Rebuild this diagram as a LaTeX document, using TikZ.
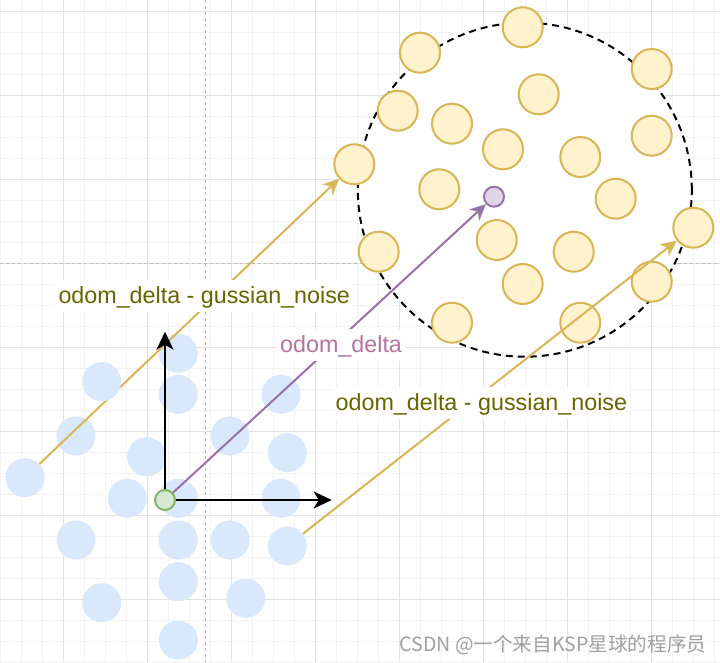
\documentclass[tikz,border=0pt]{standalone}
\usepackage{fontspec}
\setmainfont{Liberation Sans}
\newfontfamily\cjkfont{Noto Sans CJK SC}
\usetikzlibrary{arrows.meta}
\definecolor{yfill}{HTML}{FFF2CC}
\definecolor{ystroke}{HTML}{D6B656}
\definecolor{bfill}{HTML}{DAE8FC}
\definecolor{gfill}{HTML}{D5E8D4}
\definecolor{gstroke}{HTML}{82B366}
\definecolor{pfill}{HTML}{E1D5E7}
\definecolor{pstroke}{HTML}{9673A6}
\definecolor{olivetext}{HTML}{666600}
\definecolor{ptext}{HTML}{B5739D}
\definecolor{gminorc}{HTML}{F3F3F3}
\definecolor{gmajorc}{HTML}{E2E2E2}
\definecolor{guidec}{HTML}{BBBBBB}
\definecolor{wmc}{HTML}{A0A0A0}
\tikzset{
  gminor/.style={draw=gminorc, line width=1pt},
  gmajor/.style={draw=gmajorc, line width=1pt},
  guide/.style={draw=guidec, line width=1pt, dash pattern=on 3pt off 3pt},
  bcirc/.style={circle, fill=bfill, minimum size=39pt, inner sep=0pt},
  ycirc/.style={circle, draw=ystroke, fill=yfill, line width=2pt, minimum size=40pt, inner sep=0pt},
  dashcirc/.style={circle, draw=black, fill=white, line width=2pt, dash pattern=on 7pt off 5pt, minimum size=334pt, inner sep=0pt},
  gcirc/.style={circle, draw=gstroke, fill=gfill, line width=2pt, minimum size=20pt, inner sep=0pt},
  pcirc/.style={circle, draw=pstroke, fill=pfill, line width=2pt, minimum size=20pt, inner sep=0pt},
  blackarrow/.style={draw=black, line width=2.2pt, -{Stealth[length=18pt, width=17pt, inset=5pt]}},
  yarrow/.style={draw=ystroke, line width=2pt, -{Stealth[length=16pt, width=15pt, inset=5pt]}},
  parrow/.style={draw=pstroke, line width=2pt, -{Stealth[length=16pt, width=15pt, inset=5pt]}},
  lbl/.style={fill=white, inner sep=3pt, anchor=base west, text height=20.5pt, text depth=5.7pt, font=\fontsize{23.3}{27}\selectfont},
}
\begin{document}
\begin{tikzpicture}[x=1pt, y=-1pt]
\useasboundingbox (0,0) rectangle (720,662);
\fill[white] (0,0) rectangle (720,662);
% grid
\foreach \k in {0,...,34} {\draw[gminor] ({0.3+21*\k},0) -- ({0.3+21*\k},662);}
\foreach \k in {0,...,31} {\draw[gminor] (0,{11.7+21*\k}) -- (720,{11.7+21*\k});}
\foreach \k in {0,...,7} {\draw[gmajor] ({63.3+84*\k},0) -- ({63.3+84*\k},662);}
\foreach \k in {0,...,7} {\draw[gmajor] (0,{11.7+84*\k}) -- (720,{11.7+84*\k});}
% guides
\draw[guide] (205.3,0) -- (205.3,662);
\draw[guide] (0,263.7) -- (720,263.7);
% dashed region
\node[dashcirc] (dc) at (524.8,189.7) {};
% blue circles
\node[bcirc] (b1) at (178.3,353.3) {};
\node[bcirc] (b3) at (178.3,394.3) {};
\node[bcirc] (b4) at (281,394.3) {};
\node[bcirc] (b5) at (76,436) {};
\node[bcirc] (b6) at (230,436) {};
\node[bcirc] (b7) at (287.3,452.7) {};
\node[bcirc] (b8) at (146.7,456.7) {};
\node[bcirc] (b9) at (25,477.7) {};
\node[bcirc] (b10) at (127.3,498.3) {};
\node[bcirc] (b11) at (178.3,498.3) {};
\node[bcirc] (b12) at (281,498.3) {};
\node[bcirc] (b13) at (76,540) {};
\node[bcirc] (b14) at (178.3,540) {};
\node[bcirc] (b15) at (230,540) {};
\node[bcirc] (b16) at (287.3,546) {};
\node[bcirc] (b17) at (178.3,581.7) {};
\node[bcirc] (b18) at (101.7,602.7) {};
\node[bcirc] (b19) at (245.7,598.3) {};
\node[bcirc] (b20) at (178.3,640) {};
% yellow circles
\node[ycirc] (y1) at (522.7,27.3) {};
\node[ycirc] (y2) at (420,52.7) {};
\node[ycirc] (y3) at (651.7,69) {};
\node[ycirc] (y4) at (538.7,94.3) {};
\node[ycirc] (y5) at (397.7,110.7) {};
\node[ycirc] (y6) at (452,123.7) {};
\node[ycirc] (y7) at (651.7,135.7) {};
\node[ycirc] (y8) at (503,149.3) {};
\node[ycirc] (y9) at (580.3,157) {};
\node[ycirc] (y10) at (354.3,164.3) {};
\node[ycirc] (y11) at (439.3,189.3) {};
\node[ycirc] (y12) at (615.7,198.7) {};
\node[ycirc] (y13) at (693.3,227.7) {};
\node[ycirc] (y14) at (496.7,240) {};
\node[ycirc] (y15) at (573.7,251.7) {};
\node[ycirc] (y16) at (378.7,251.7) {};
\node[ycirc] (y17) at (522.7,284) {};
\node[ycirc] (y18) at (651.7,281.7) {};
\node[ycirc] (y19) at (452,322.7) {};
\node[ycirc] (y20) at (580.3,322.7) {};
% purple target
\node[pcirc] (pc) at (494,196.7) {};
% connectors
\coordinate (gc) at (165,500);
\coordinate (ty) at (165,331.7);
\coordinate (tx) at (331.7,500);
\draw[yarrow] (b9) -- (y10);
\draw[yarrow] (b16) -- (y13);
\draw[parrow] (gc) -- (pc);
\node[bcirc] (b2) at (101.7,381.7) {};
\draw[blackarrow] (gc) -- (ty);
\draw[blackarrow] (gc) -- (tx);
\node[gcirc] (g) at (gc) {};
% labels
\node[lbl, text=olivetext] (l1) at (55.3,303.3) {odom\_delta - gussian\_noise};
\node[lbl, text=olivetext] (l2) at (332.5,410) {odom\_delta - gussian\_noise};
\node[lbl, text=ptext] (l3) at (277,352.3) {odom\_delta};
% watermark
\node[anchor=base west, inner sep=0pt, text=wmc, font=\cjkfont\fontsize{19.6}{24}\selectfont] (wm) at (399.3,651.7) {CSDN @一个来自KSP星球的程序员};
\end{tikzpicture}
\end{document}
